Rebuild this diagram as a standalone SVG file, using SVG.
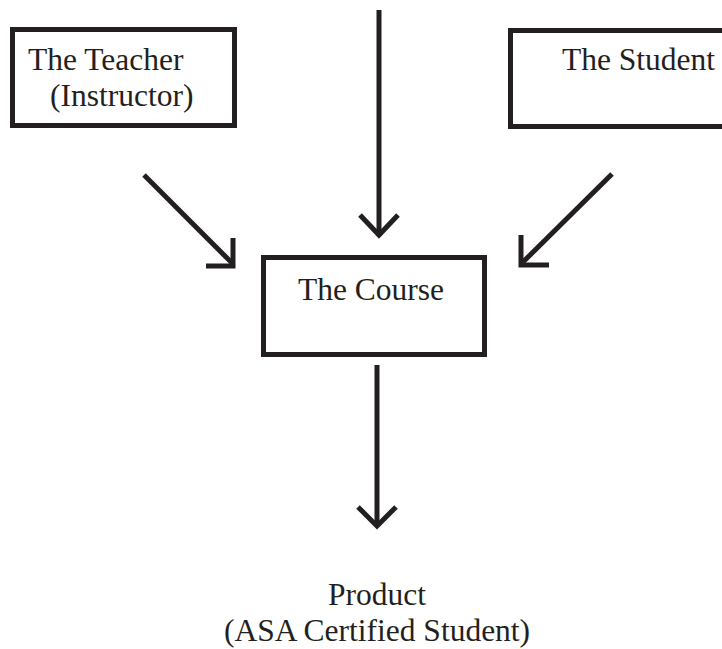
<svg xmlns="http://www.w3.org/2000/svg" width="722" height="649" viewBox="0 0 722 649">
<style>
.box{fill:#fff;stroke:#231f20;stroke-width:5}
.ln{fill:none;stroke:#231f20;stroke-width:5}
.t{font-family:"Times New Roman","Liberation Serif",Tinos,serif;font-size:31.5px;fill:#231f20}
</style>
<rect width="722" height="649" fill="#fff"/>
<g id="teacher">
<rect class="box" x="12.5" y="29.5" width="222" height="96"/>
<text class="t" x="28" y="70">The Teacher</text>
<text class="t" x="50" y="106">(Instructor)</text>
</g>
<g id="student">
<rect class="box" x="510.5" y="30.5" width="230" height="96"/>
<text class="t" x="562" y="70">The Student</text>
</g>
<g id="course">
<rect class="box" x="263.5" y="257.5" width="221" height="97"/>
<text class="t" x="298" y="300">The Course</text>
</g>
<g id="product">
<text class="t" x="377" y="605" text-anchor="middle">Product</text>
<text class="t" x="377" y="641" text-anchor="middle">(ASA Certified Student)</text>
</g>
<g id="connectors">
<line class="ln" x1="379" y1="10" x2="379" y2="236"/>
<polyline class="ln" points="360,215 379,235 398,215"/>
<line class="ln" x1="144" y1="175" x2="232" y2="263"/>
<polyline class="ln" points="233,238 233,266 206,266"/>
<line class="ln" x1="612" y1="174" x2="523" y2="262"/>
<polyline class="ln" points="521,235 521,265 549,265"/>
<line class="ln" x1="377" y1="365" x2="377" y2="526"/>
<polyline class="ln" points="358,507 377,526 396,507"/>
</g>
</svg>
